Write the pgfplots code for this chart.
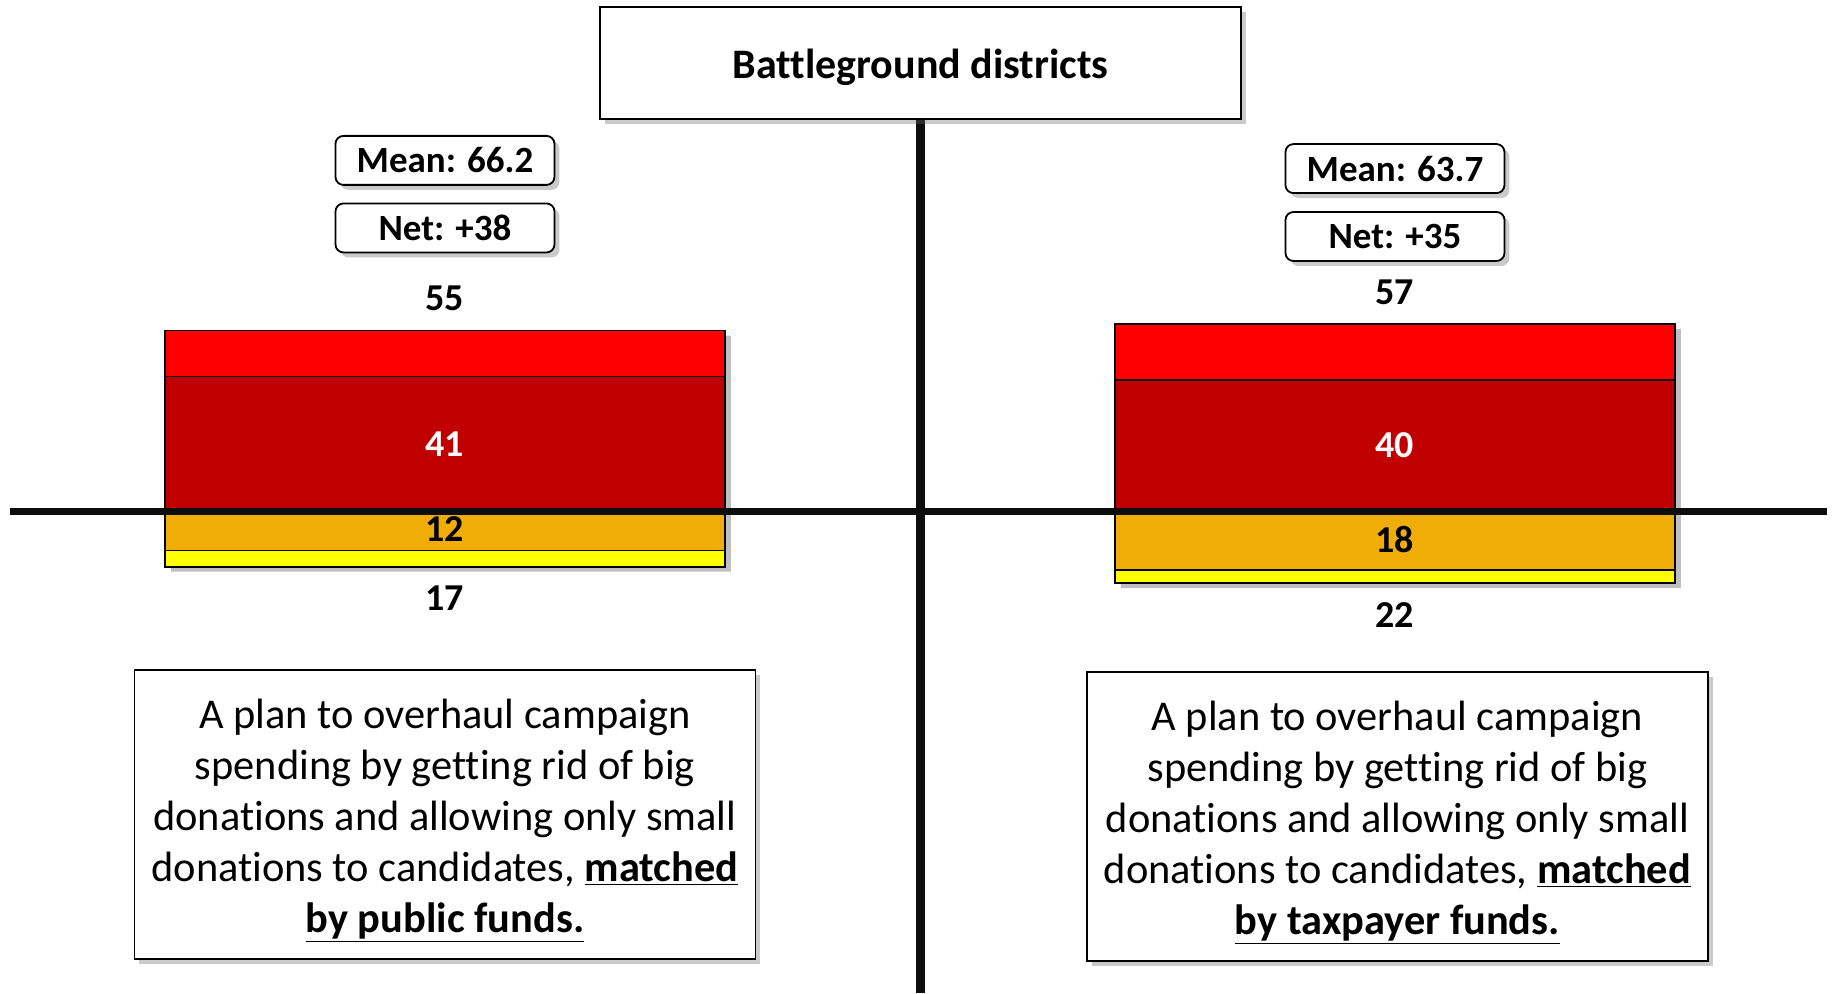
\documentclass[border=0pt]{standalone}
\usepackage{pgfplots}
\pgfplotsset{compat=1.18}
\usepackage{fontspec}
\setmainfont{Carlito}[Ligatures=NoCommon]
\usetikzlibrary{shadows}
\definecolor{lred}{HTML}{FF0000}
\definecolor{dred}{HTML}{C00000}
\definecolor{orng}{HTML}{F0AD08}
\definecolor{yell}{HTML}{FFFF00}
\tikzset{
  shd/.style={drop shadow={shadow xshift=2.5pt, shadow yshift=-2.5pt, opacity=0.35, fill=black!60}},
  smallbox/.style={draw=black, fill=white, line width=0.9pt, rounded corners=4pt, minimum width=109.5pt, minimum height=24.5pt, inner sep=0pt, shd, font=\fontsize{18.5}{22}\selectfont\bfseries},
  descbox/.style={draw=black, fill=white, line width=0.8pt, minimum width=310.5pt, minimum height=144.5pt, inner sep=0pt, align=center, shd, font=\fontsize{21.2}{25.5}\selectfont},
  lab/.style={font=\fontsize{19}{22}\selectfont\bfseries, inner sep=0pt},
  segbar/.style={ybar, bar width=280pt, bar shift=0pt, draw=black, line width=0.8pt},
}
\begin{document}
\begin{tikzpicture}
\begin{axis}[width=916.5pt, height=496.5pt, scale only axis,
  xmin=-0.4684, xmax=1.4611, ymin=-146.95, ymax=155.8,
  hide axis, clip=false]
% bar shadows
\addplot[ybar, bar width=280pt, bar shift=3pt, fill=black, fill opacity=0.25, draw=none] coordinates {(0,53.5) (1,55.5)};
\addplot[ybar, bar width=280pt, bar shift=3pt, fill=black, fill opacity=0.25, draw=none] coordinates {(0,-18.5) (1,-23.5)};
% positive side: total (light red) then strongly (dark red)
\addplot[segbar, fill=lred] coordinates {(0,55) (1,57)};
\addplot[segbar, fill=dred] coordinates {(0,41) (1,40)};
% negative side: total (yellow) then strongly (orange)
\addplot[segbar, fill=yell] coordinates {(0,-17) (1,-22)};
\addplot[segbar, fill=orng] coordinates {(0,-12) (1,-18)};
% axes lines
\addplot[black!95, line width=3.5pt, no marks] coordinates {(-0.458,0) (1.455,0)};
\addplot[black!95, line width=4.5pt, no marks] coordinates {(0.5005,136) (0.5005,-146.95)};
% title
\node[draw=black, fill=white, line width=0.8pt, minimum width=320.5pt, minimum height=56pt, shd,
  font=\fontsize{21}{25}\selectfont\bfseries] at (axis cs:0.5005,136.6) {\rule{0pt}{19.5pt}Battleground districts};
% mean / net boxes
\node[smallbox] at (axis cs:0,106.9) {Mean: 66.2};
\node[smallbox] at (axis cs:0,86.3) {Net: +38};
\node[smallbox] at (axis cs:1,104.4) {Mean: 63.7};
\node[smallbox] at (axis cs:1,83.7) {Net: +35};
% bar labels
\node[lab] at (axis cs:0,64.9) {55};
\node[lab, text=white] at (axis cs:0,20.5) {41};
\node[lab] at (axis cs:0,-5.4) {12};
\node[lab] at (axis cs:0,-26.7) {17};
\node[lab] at (axis cs:1,66.8) {57};
\node[lab, text=white] at (axis cs:1,20) {40};
\node[lab] at (axis cs:1,-8.6) {18};
\node[lab] at (axis cs:1,-31.7) {22};
% descriptions
\node[descbox] at (axis cs:0,-92.5) {\rule{0pt}{21pt}A plan to overhaul campaign\\spending by getting rid of big\\donations and allowing only small\\donations to candidates, \textbf{\underline{matched}}\\\textbf{\underline{by public funds.}}};
\node[descbox] at (axis cs:1.0026,-93.1) {\rule{0pt}{21pt}A plan to overhaul campaign\\spending by getting rid of big\\donations and allowing only small\\donations to candidates, \textbf{\underline{matched}}\\\textbf{\underline{by taxpayer funds.}}};
\end{axis}
\pgfresetboundingbox
\useasboundingbox (current axis.south west) rectangle (current axis.north east);
\end{tikzpicture}
\end{document}
